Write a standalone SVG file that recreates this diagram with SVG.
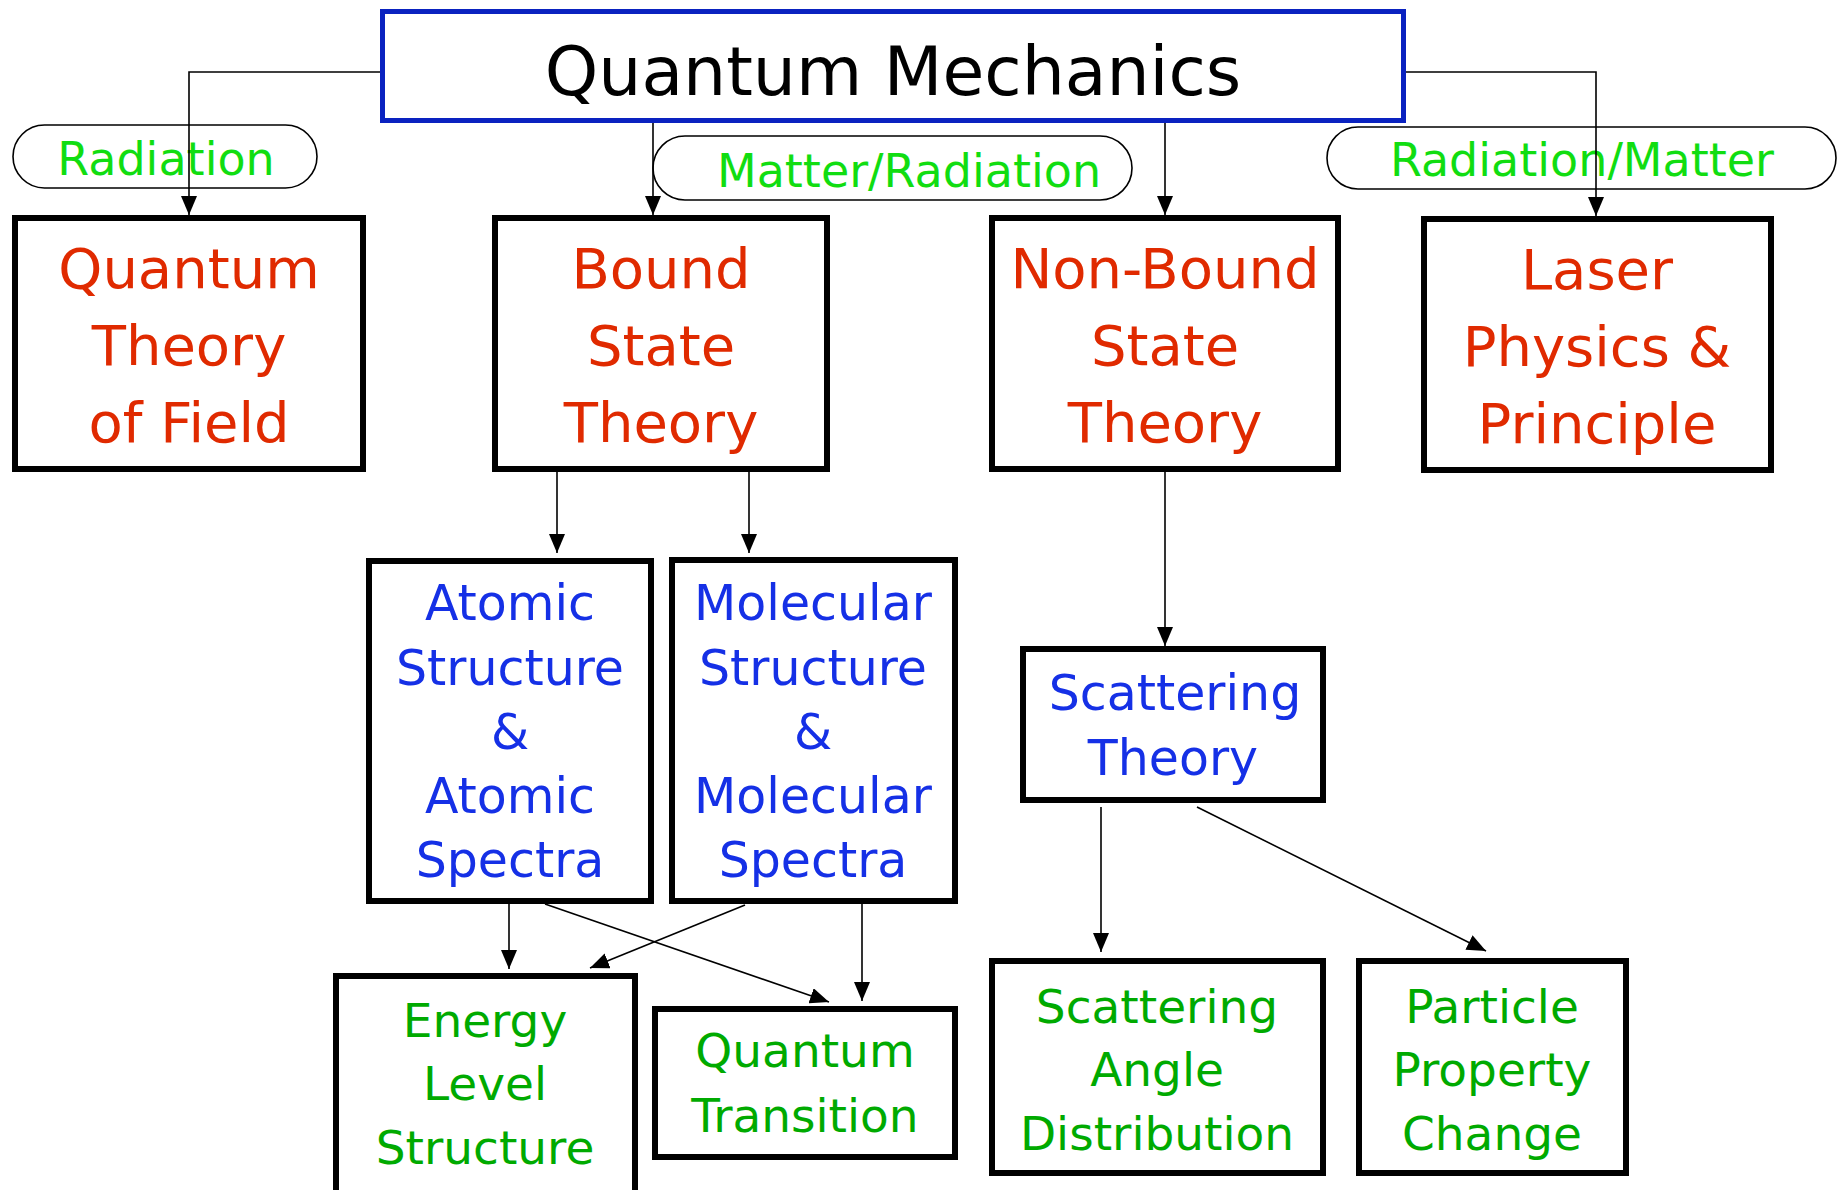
<svg xmlns="http://www.w3.org/2000/svg" width="1843" height="1190" viewBox="0 0 1843 1190">
<defs>
<marker id="arr" markerUnits="userSpaceOnUse" markerWidth="19" markerHeight="16" refX="19" refY="8" orient="auto">
<path d="M0,0 L19,8 L0,16 z" fill="#000"/>
</marker>
<style>
.box{fill:#fff;stroke:#000;stroke-width:6}
.top{fill:#fff;stroke:#0a22c0;stroke-width:5}
.pill{fill:#fff;stroke:#000;stroke-width:1.6}
.c{fill:none;stroke:#000;stroke-width:1.6;marker-end:url(#arr)}
text{font-family:"DejaVu Sans","Liberation Sans",sans-serif;text-anchor:middle}
.t0{font-size:68px;fill:#000}
.red{font-size:56px;fill:#e02a00}
.blue{font-size:49px;fill:#1530e6}
.lab{font-size:46px;fill:#11dd11}
.grn{font-size:47px;fill:#00aa00}
</style>
</defs>
<g id="l-rad"><rect class="pill" x="13" y="125" width="304" height="63" rx="31.5"/><text class="lab" x="166" y="175">Radiation</text></g>
<g id="l-mr"><rect class="pill" x="653" y="136" width="479" height="64" rx="32"/><text class="lab" x="909" y="187">Matter/Radiation</text></g>
<g id="l-rm"><rect class="pill" x="1327" y="127" width="509" height="62" rx="31"/><text class="lab" x="1582" y="176">Radiation/Matter</text></g>
<g id="connectors">
<path class="c" d="M380 72 H189 V215"/>
<path class="c" d="M653 121 V215"/>
<path class="c" d="M1165 121 V215"/>
<path class="c" d="M1406 72 H1596 V216"/>
<path class="c" d="M557 471 V553"/>
<path class="c" d="M749 471 V553"/>
<path class="c" d="M1165 471 V646"/>
<path class="c" d="M509 904 V969"/>
<path class="c" d="M545 904 L829 1002"/>
<path class="c" d="M745 905 L590 968"/>
<path class="c" d="M862 904 V1001"/>
<path class="c" d="M1101 807 V952"/>
<path class="c" d="M1197 807 L1486 951"/>
</g>
<g id="n-qm"><rect class="top" x="382.5" y="11.5" width="1021" height="109"/><text class="t0" x="893" y="95">Quantum Mechanics</text></g>
<g id="n-qtf"><rect class="box" x="15" y="218" width="348" height="251"/><text class="red"><tspan x="189" y="288">Quantum</tspan><tspan x="189" y="365">Theory</tspan><tspan x="189" y="442">of Field</tspan></text></g>
<g id="n-bst"><rect class="box" x="495" y="218" width="332" height="251"/><text class="red"><tspan x="661" y="288">Bound</tspan><tspan x="661" y="365">State</tspan><tspan x="661" y="442">Theory</tspan></text></g>
<g id="n-nbst"><rect class="box" x="992" y="218" width="346" height="251"/><text class="red"><tspan x="1165" y="288">Non-Bound</tspan><tspan x="1165" y="365">State</tspan><tspan x="1165" y="442">Theory</tspan></text></g>
<g id="n-laser"><rect class="box" x="1424" y="219" width="347" height="251"/><text class="red"><tspan x="1597" y="289">Laser</tspan><tspan x="1597" y="366">Physics &amp;</tspan><tspan x="1597" y="443">Principle</tspan></text></g>
<g id="n-atomic"><rect class="box" x="369" y="561" width="282" height="340"/><text class="blue"><tspan x="510" y="620">Atomic</tspan><tspan x="510" y="685">Structure</tspan><tspan x="510" y="749">&amp;</tspan><tspan x="510" y="813">Atomic</tspan><tspan x="510" y="877">Spectra</tspan></text></g>
<g id="n-mol"><rect class="box" x="672" y="560" width="283" height="341"/><text class="blue"><tspan x="813" y="620">Molecular</tspan><tspan x="813" y="685">Structure</tspan><tspan x="813" y="749">&amp;</tspan><tspan x="813" y="813">Molecular</tspan><tspan x="813" y="877">Spectra</tspan></text></g>
<g id="n-scat"><rect class="box" x="1023" y="649" width="300" height="151"/><text class="blue"><tspan x="1175" y="710">Scattering</tspan><tspan x="1173" y="775">Theory</tspan></text></g>
<g id="n-energy"><rect class="box" x="336" y="976" width="299" height="230"/><text class="grn"><tspan x="485" y="1037">Energy</tspan><tspan x="485" y="1100">Level</tspan><tspan x="485" y="1164">Structure</tspan></text></g>
<g id="n-qt"><rect class="box" x="655" y="1009" width="300" height="148"/><text class="grn"><tspan x="805" y="1067">Quantum</tspan><tspan x="805" y="1132">Transition</tspan></text></g>
<g id="n-sad"><rect class="box" x="992" y="961" width="331" height="212"/><text class="grn"><tspan x="1157" y="1023">Scattering</tspan><tspan x="1157" y="1086">Angle</tspan><tspan x="1157" y="1150">Distribution</tspan></text></g>
<g id="n-ppc"><rect class="box" x="1359" y="961" width="267" height="212"/><text class="grn"><tspan x="1492" y="1023">Particle</tspan><tspan x="1492" y="1086">Property</tspan><tspan x="1492" y="1150">Change</tspan></text></g>
</svg>
